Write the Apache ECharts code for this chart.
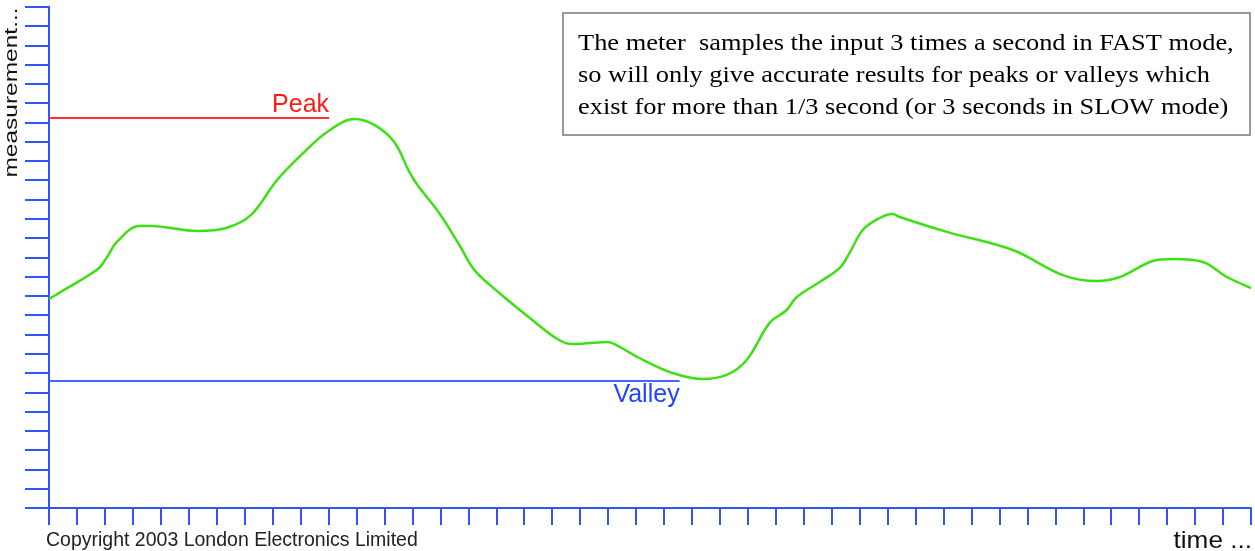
<!DOCTYPE html>
<html>
<head>
<meta charset="utf-8">
<title>Peak and valley</title>
<script src="https://cdn.jsdelivr.net/npm/echarts@6/dist/echarts.min.js"></script>
<style>
  html, body { margin: 0; padding: 0; background: #fff; }
  #chart { width: 1255px; height: 551px; }
</style>
</head>
<body>
<div id="chart"></div>
<script>
// time in tick units (0..43), level in tick units (0..26)
const times = [0, 0.54, 1.15, 1.79, 2.08, 2.43, 3.22, 3.65, 5.3, 6.34, 7.23, 8.16, 9.13, 9.95, 10.92,
  11.64, 12.35, 12.89, 13.18, 13.96, 14.68, 15.22, 16.11, 17.29, 18.2, 18.7, 19.23, 19.98, 20.3, 21.12,
  22.31, 23.38, 24.24, 24.96, 25.78, 26.39, 26.75, 27.57, 28.29, 28.64, 29.11, 29.72, 30.18, 30.43,
  32.12, 34.48, 36.27, 37.49, 38.31, 39.49, 40.21, 41.28, 42.14, 43];
const levels = [10.84, 11.31, 11.83, 12.45, 13.02, 13.8, 14.63, 14.63, 14.37, 14.52, 15.2, 17.01, 18.46, 19.5, 20.18,
  19.87, 18.98, 17.43, 16.75, 15.3, 13.64, 12.34, 11.15, 9.75, 8.75, 8.5, 8.54, 8.61, 8.45, 7.78,
  7.0, 6.69, 6.9, 7.68, 9.6, 10.27, 10.94, 11.72, 12.45, 13.23, 14.42, 15.04, 15.25, 15.09,
  14.32, 13.38, 12.08, 11.77, 11.98, 12.81, 12.91, 12.76, 11.98, 11.41];

const peakLevel = 20.23;
const peakEnd = 10.02;
const valleyLevel = 6.59;
const valleyEnd = 22.56;

const noteLines = [
  'The meter  samples the input 3 times a second in FAST mode,',
  'so will only give accurate results for peaks or valleys which',
  'exist for more than 1/3 second (or 3 seconds in SLOW mode)'
];

const axisBlue = '#3254ff';

const chart = echarts.init(document.getElementById('chart'));

// line with a text label sitting at its right end
function refLine(name, level, end, color, labelColor, pos) {
  return {
    name: name,
    type: 'line',
    symbol: 'circle',
    symbolSize: 0.1,
    showSymbol: true,
    data: [
      [0, level],
      {
        value: [end, level],
        label: {
          show: true, formatter: name, position: pos, align: 'right', distance: pos === 'top' ? 0 : 2,
          color: labelColor, fontSize: 25, fontFamily: 'Liberation Sans'
        }
      }
    ],
    itemStyle: { color: color },
    lineStyle: { color: color, width: 2 }
  };
}

const option = {
  animation: false,
  backgroundColor: '#fff',
  grid: { left: 49, right: 4, top: 6.7, bottom: 43 },
  xAxis: {
    type: 'value',
    min: 0,
    max: 43,
    interval: 1,
    axisLine: { lineStyle: { color: axisBlue, width: 2 } },
    axisTick: { show: true, length: 17, lineStyle: { color: axisBlue, width: 2 } },
    axisLabel: { show: false },
    splitLine: { show: false }
  },
  yAxis: {
    type: 'value',
    min: 0,
    max: 26,
    interval: 1,
    axisLine: { show: true, lineStyle: { color: axisBlue, width: 2 } },
    axisTick: { show: true, length: 24, lineStyle: { color: axisBlue, width: 2 } },
    axisLabel: { show: false },
    splitLine: { show: false }
  },
  series: [
    {
      name: 'signal',
      type: 'line',
      smooth: 0.35,
      symbol: 'none',
      data: times.map((t, i) => [t, levels[i]]),
      lineStyle: { color: '#3ee014', width: 2.5 },
      z: 3
    },
    refLine('Peak', peakLevel, peakEnd, '#ff3030', '#ff1a1a', 'top'),
    refLine('Valley', valleyLevel, valleyEnd, '#4466ff', '#2244ff', 'bottom')
  ],
  graphic: [
    {
      type: 'rect',
      shape: { x: 563, y: 13, width: 687, height: 122 },
      style: { fill: '#fff', stroke: '#999', lineWidth: 2 }
    },
    {
      type: 'text',
      x: 578,
      y: 28,
      scaleX: 1.1,
      style: {
        text: noteLines.join('\n'),
        font: '24px "Liberation Serif"',
        lineHeight: 32,
        fill: '#000'
      }
    },
    {
      type: 'text',
      x: 12,
      y: 92.5,
      rotation: Math.PI / 2,
      scaleX: 1.36,
      style: {
        text: 'measurement...',
        font: '18px "Liberation Sans"',
        fill: '#111',
        align: 'center',
        verticalAlign: 'middle'
      }
    },
    {
      type: 'text',
      x: 46,
      y: 541,
      style: {
        text: 'Copyright 2003 London Electronics Limited',
        font: '19.5px "Liberation Sans"',
        fill: '#222',
        verticalAlign: 'middle'
      }
    },
    {
      type: 'text',
      x: 1252,
      y: 541,
      scaleX: 1.09,
      style: {
        text: 'time ...',
        font: '24px "Liberation Sans"',
        fill: '#111',
        align: 'right',
        verticalAlign: 'middle'
      }
    }
  ]
};

chart.setOption(option);
</script>
</body>
</html>
